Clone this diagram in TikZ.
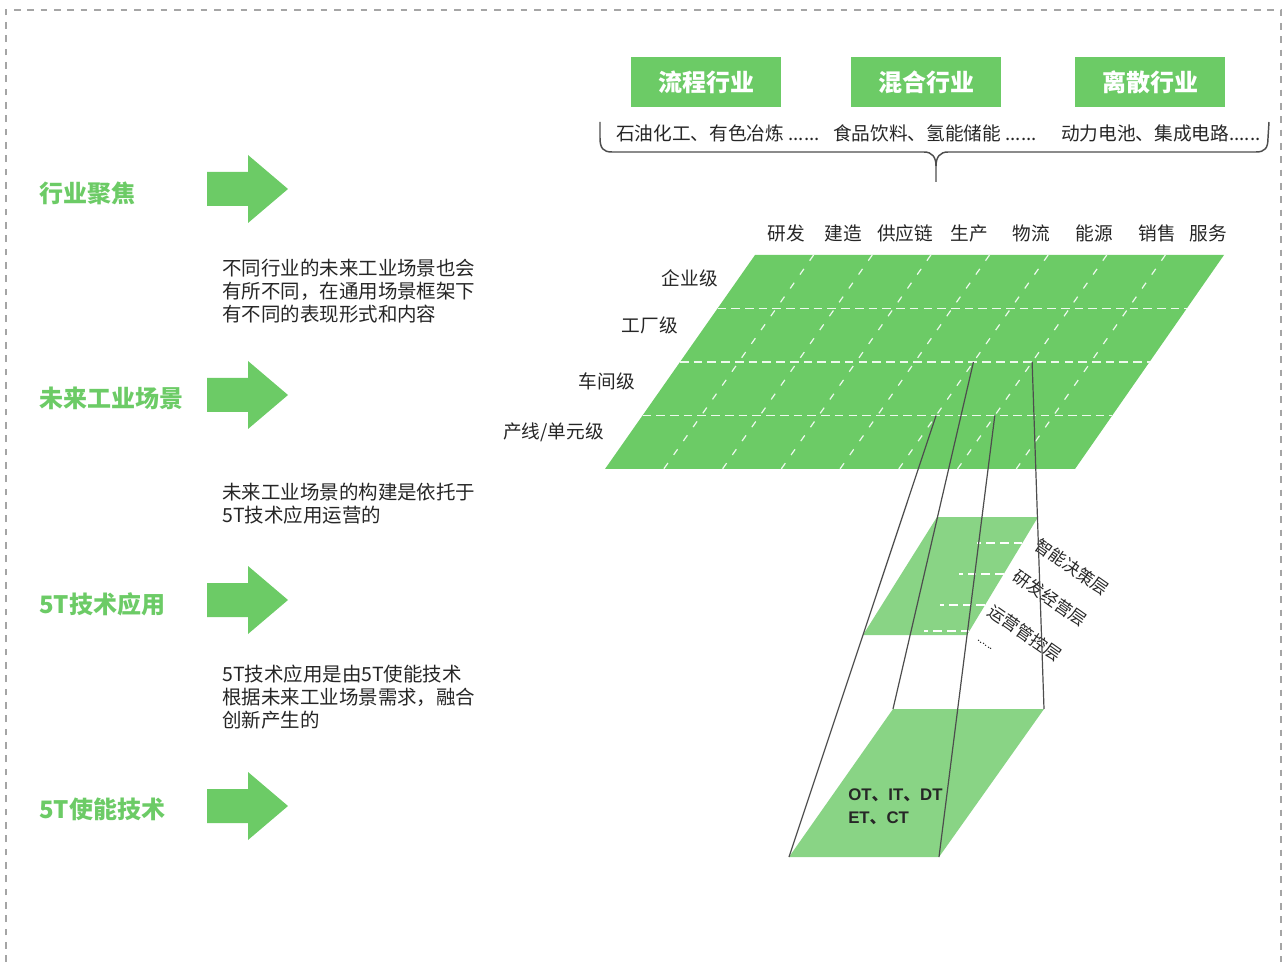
\documentclass[tikz,border=0pt]{standalone}
\usepackage{fontspec}
\setmainfont{Noto Sans CJK SC}
\newfontfamily\lsans{Liberation Sans}
\usetikzlibrary{calc}
\definecolor{mgreen}{RGB}{108,203,102}
\definecolor{lgreen}{RGB}{137,212,133}
\definecolor{tgray}{RGB}{38,38,38}
\definecolor{lgray}{RGB}{77,77,77}
\definecolor{bgray}{RGB}{165,165,165}
\begin{document}
\begin{tikzpicture}[x=0.75pt,y=-0.75pt,
  title/.style={font=\fontsize{18}{21}\selectfont\bfseries, text=mgreen, inner sep=0pt},
  desc/.style={font=\fontsize{14.6}{17}\selectfont, text=tgray, inner sep=0pt},
  lbl/.style={font=\fontsize{14}{17}\selectfont, text=tgray, inner sep=0pt},
  hbox/.style={fill=mgreen, minimum width=112.5pt, minimum height=37.5pt, inner sep=0pt, text=white, font=\fontsize{18}{21}\selectfont\bfseries},
  layer/.style={font=\fontsize{12.6}{15}\selectfont, text=tgray, inner sep=0pt, rotate=-35},
  tech/.style={font=\fontsize{12.6}{15}\selectfont\bfseries, text=tgray, inner sep=0pt},
  hdash/.style={draw=white!88!mgreen, line width=0.9pt, dash pattern=on 6.5pt off 3.8pt},
  sdash/.style={draw=white!88!mgreen, line width=0.9pt, dash pattern=on 5.2pt off 7.5pt},
  conn/.style={draw=lgray, line width=0.9pt},
  bracepath/.style={draw=lgray, line width=1.1pt},
  frame/.style={draw=bgray, line width=1.1pt, dash pattern=on 5pt off 5pt},
  bigarrow/.style={fill=mgreen}
]
\useasboundingbox (0,0) rectangle (1282,962);
% frame
\draw[frame] (6,962) -- (6,10) -- (1281,10) -- (1281,962);

% left titles and arrows
\node[title, anchor=west] (t1) at (39,193) {行业聚焦};
\node[title, anchor=west] (t2) at (39,398) {未来工业场景};
\node[title, anchor=west] (t3) at (39,604) {5T技术应用};
\node[title, anchor=west] (t4) at (39,809) {5T使能技术};
\foreach \yy in {189,395,600,806}{
  \fill[bigarrow] (207,\yy-17) -- (248,\yy-17) -- (248,\yy-34) -- (288,\yy) -- (248,\yy+34) -- (248,\yy+17) -- (207,\yy+17) -- cycle;
}

% descriptions
\node[desc, anchor=west] (d1a) at (222,268) {不同行业的未来工业场景也会};
\node[desc, anchor=west] (d1b) at (222,291) {有所不同，在通用场景框架下};
\node[desc, anchor=west] (d1c) at (222,314) {有不同的表现形式和内容};
\node[desc, anchor=west] (d2a) at (222,492) {未来工业场景的构建是依托于};
\node[desc, anchor=west] (d2b) at (222,515) {5T技术应用运营的};
\node[desc, anchor=west] (d3a) at (222,674) {5T技术应用是由5T使能技术};
\node[desc, anchor=west] (d3b) at (222,697) {根据未来工业场景需求，融合};
\node[desc, anchor=west] (d3c) at (222,720) {创新产生的};

% top industry boxes
\node[hbox] (h1) at (706,82) {流程行业};
\node[hbox] (h2) at (926,82) {混合行业};
\node[hbox] (h3) at (1150,82) {离散行业};
\node[lbl, anchor=west] (s1) at (616,133) {石油化工、有色冶炼 ......};
\node[lbl, anchor=west] (s2) at (833,133) {食品饮料、氢能储能 ......};
\node[lbl, anchor=west] (s3) at (1061,133) {动力电池、集成电路......};
\draw[bracepath] (600,122) -- (600,138) .. controls (600,148) and (603,152) .. (612,152)
  -- (924,152) .. controls (932,152) and (936,157) .. (936,166) -- (936,182);
\draw[bracepath] (936,166) .. controls (936,157) and (940,152) .. (948,152)
  -- (1256,152) .. controls (1265,152) and (1268,148) .. (1268,138) -- (1269,122);

% main grid
\coordinate (g1) at (755,255);
\coordinate (g2) at (1224,255);
\coordinate (g3) at (1075,469);
\coordinate (g4) at (605,469);
\fill[mgreen] (g1) -- (g2) -- (g3) -- (g4) -- cycle;
\foreach \i in {1,2,3}{
  \draw[hdash] ($(g1)!\i/4!(g4)$) -- ($(g2)!\i/4!(g3)$);
}
\foreach \k in {1,...,7}{
  \draw[sdash] ($(g1)!\k/8!(g2)$) -- ($(g4)!\k/8!(g3)$);
}
\node[lbl] (c1) at (786,233) {研发};
\node[lbl] (c2) at (843,233) {建造};
\node[lbl] (c3) at (905,233) {供应链};
\node[lbl] (c4) at (969,233) {生产};
\node[lbl] (c5) at (1031,233) {物流};
\node[lbl] (c6) at (1094,233) {能源};
\node[lbl] (c7) at (1157,233) {销售};
\node[lbl] (c8) at (1208,233) {服务};
\node[lbl, anchor=east] (r1) at (718,278) {企业级};
\node[lbl, anchor=east] (r2) at (678,325) {工厂级};
\node[lbl, anchor=east] (r3) at (635,381) {车间级};
\node[lbl, anchor=east] (r4) at (604,432) {产线/单元级};

% middle layer plane
\coordinate (m1) at (937,517);
\coordinate (m2) at (1038,517);
\coordinate (m3) at (967,635);
\coordinate (m4) at (863,635);
\fill[lgreen] (m1) -- (m2) -- (m3) -- (m4) -- cycle;
\foreach \f in {0.22,0.483,0.746,0.966}{
  \draw[hdash, draw=white] ($(m2)!\f!(m3)$) -- ++(-45,0);
}
\node[layer] (l1) at (1072,567) {智能决策层};
\node[layer] (l2) at (1050,598) {研发经营层};
\node[layer] (l3) at (1025,633) {运营管控层};
\node[layer, font=\fontsize{8}{10}\selectfont] (l4) at (985,645) {......};

% bottom technology plane
\coordinate (b1) at (893,709);
\coordinate (b2) at (1044,709);
\coordinate (b3) at (939,857);
\coordinate (b4) at (789,857);
\fill[lgreen] (b1) -- (b2) -- (b3) -- (b4) -- cycle;
\node[tech, anchor=west] (tech1) at (848,795) {{\lsans OT}、{\lsans IT}、{\lsans DT}};
\node[tech, anchor=west] (tech2) at (848,818) {{\lsans ET}、{\lsans CT}};

% connectors from grid cell to planes
\coordinate (k5t) at ($(g1)!5/8!(g2)$);
\coordinate (k5b) at ($(g4)!5/8!(g3)$);
\coordinate (k6t) at ($(g1)!6/8!(g2)$);
\coordinate (k6b) at ($(g4)!6/8!(g3)$);
\coordinate (p52) at ($(k5t)!2/4!(k5b)$);
\coordinate (p53) at ($(k5t)!3/4!(k5b)$);
\coordinate (p62) at ($(k6t)!2/4!(k6b)$);
\coordinate (p63) at ($(k6t)!3/4!(k6b)$);
\draw[conn] (p53) -- (b4);
\draw[conn] (p52) -- (b1);
\draw[conn] (p63) -- (b3);
\draw[conn] (p62) -- (b2);
\end{tikzpicture}
\end{document}
